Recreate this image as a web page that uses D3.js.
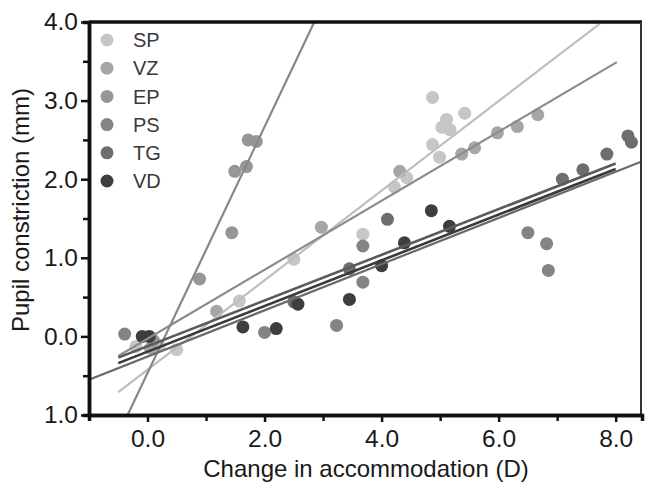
<!DOCTYPE html>
<html>
<head>
<meta charset="utf-8">
<script src="https://cdn.jsdelivr.net/npm/d3@7"></script>
<style>
  body { margin: 0; background: #fff; }
  svg { display: block; font-family: "Liberation Sans", Arial, Helvetica, sans-serif; }
</style>
</head>
<body>
<svg></svg>
<script>
// Subjects and their grey levels
const subjects = ["SP", "VZ", "EP", "PS", "TG", "VD"];
const pointColors = ["#c6c6c6", "#a6a6a6", "#969696", "#848484", "#6e6e6e", "#3e3e3e"];
const lineColors = ["#bebebe", "#8c8c8c", "#878787", "#6a6a6a", "#5a5a5a", "#3a3a3a"];

// Measurements [accommodation D, constriction mm]
const spPoints = [[-0.2, -0.13], [0.2, -0.12], [0.5, -0.17], [1.57, 0.45], [2.5, 0.98], [3.68, 1.3],
  [4.22, 1.9], [4.43, 2.02], [4.87, 2.44], [4.99, 2.28], [4.87, 3.04], [5.11, 2.76], [5.03, 2.66],
  [5.17, 2.63], [5.42, 2.84]];
const vzPoints = [[0.05, -0.15], [1.18, 0.32], [2.97, 1.39], [4.31, 2.1], [5.37, 2.32], [5.59, 2.4],
  [5.98, 2.59], [6.32, 2.67], [6.67, 2.82]];
const epPoints = [[0.1, -0.05], [0.89, 0.73], [1.44, 1.32], [1.49, 2.1], [1.69, 2.16], [1.72, 2.5], [1.86, 2.48]];
const psPoints = [[-0.39, 0.03], [2.0, 0.05], [3.23, 0.14], [3.68, 0.69], [3.68, 1.15], [6.5, 1.32],
  [6.82, 1.18], [6.85, 0.84]];
const tgPoints = [[2.5, 0.44], [3.45, 0.86], [4.1, 1.49], [7.09, 2.0], [7.44, 2.12], [7.85, 2.32],
  [8.21, 2.55], [8.27, 2.47]];
const vdPoints = [[-0.09, 0.0], [0.03, 0.0], [1.63, 0.12], [2.2, 0.1], [2.57, 0.41], [3.45, 0.47],
  [4.0, 0.9], [4.39, 1.19], [4.85, 1.6], [5.16, 1.4]];

// Fitted lines, start and end [x, y]
const spFit = [[-0.5, -0.71], [7.73, 3.98]];
const vzFit = [[-0.5, -0.25], [8.02, 3.49]];
const epFit = [[-0.34, -1.0], [2.85, 4.0]];
const psFit = [[-1.0, -0.55], [8.46, 2.23]];
const tgFit = [[-0.5, -0.27], [8.0, 2.2]];
const vdFit = [[-0.5, -0.34], [8.0, 2.13]];

// Axis ticks
const xMajor = [0, 2, 4, 6, 8];
const xMajorLabels = ["0.0", "2.0", "4.0", "6.0", "8.0"];
const xMinor = [1, 3, 5, 7];
const yMajor = [-1, 0, 1, 2, 3, 4];
const yMajorLabels = ["1.0", "0.0", "1.0", "2.0", "3.0", "4.0"];
const yMinor = [-0.5, 0.5, 1.5, 2.5, 3.5];

const allPoints = [spPoints, vzPoints, epPoints, psPoints, tgPoints, vdPoints];
const allFits = [spFit, vzFit, epFit, psFit, tgFit, vdFit];

const W = 646, H = 482;
const margin = { top: 22, right: 4, bottom: 67, left: 89 };

const svg = d3.select("svg").attr("width", W).attr("height", H);

const x = d3.scaleLinear().domain([-1, 8.45]).range([margin.left, W - margin.right]);
const y = d3.scaleLinear().domain([-1, 4]).range([H - margin.bottom, margin.top]);

svg.append("clipPath").attr("id", "plot")
  .append("rect")
  .attr("x", margin.left).attr("y", margin.top)
  .attr("width", W - margin.left - margin.right)
  .attr("height", H - margin.top - margin.bottom);

const plot = svg.append("g").attr("clip-path", "url(#plot)");

// points
allPoints.forEach((pts, i) => {
  plot.append("g").selectAll("circle")
    .data(pts)
    .enter().append("circle")
    .attr("cx", d => x(d[0]))
    .attr("cy", d => y(d[1]))
    .attr("r", 6.5)
    .style("fill", pointColors[i]);
});

// fit lines
const line = d3.line().x(d => x(d[0])).y(d => y(d[1]));
allFits.forEach((f, i) => {
  plot.append("path")
    .attr("d", line(f))
    .style("fill", "none")
    .style("stroke", lineColors[i])
    .style("stroke-width", i >= 4 ? 2.6 : 2.2);
});

// frame: top and right
svg.append("line")
  .attr("x1", x(-1)).attr("x2", x(8.45))
  .attr("y1", y(4)).attr("y2", y(4))
  .style("stroke", "#111").style("stroke-width", 3.5);
svg.append("line")
  .attr("x1", x(8.45) - 1).attr("x2", x(8.45) - 1)
  .attr("y1", y(4)).attr("y2", y(-1))
  .style("stroke", "#333").style("stroke-width", 2);

// axes
const xMinorAxis = svg.append("g")
  .attr("transform", `translate(0,${y(-1)})`)
  .call(d3.axisBottom(x).tickValues(xMinor).tickSize(6).tickFormat(""));
const xAxis = svg.append("g")
  .attr("transform", `translate(0,${y(-1)})`)
  .call(d3.axisBottom(x).tickValues(xMajor).tickSize(7).tickSizeOuter(0)
    .tickFormat((d, i) => xMajorLabels[i]));
const yMinorAxis = svg.append("g")
  .attr("transform", `translate(${x(-1)},0)`)
  .call(d3.axisLeft(y).tickValues(yMinor).tickSize(6).tickFormat(""));
const yAxis = svg.append("g")
  .attr("transform", `translate(${x(-1)},0)`)
  .call(d3.axisLeft(y).tickValues(yMajor).tickSize(8).tickSizeOuter(0)
    .tickFormat((d, i) => yMajorLabels[i]));

[xMinorAxis, xAxis, yMinorAxis, yAxis].forEach(a => {
  a.selectAll(".domain").style("stroke", "#111").style("stroke-width", 3.5);
  a.selectAll(".tick line").style("stroke", "#111").style("stroke-width", 2.5);
  a.selectAll("text").style("font-size", "24.5px").style("fill", "#1a1a1a")
    .style("font-family", "'Liberation Sans', Arial, sans-serif");
});
xAxis.selectAll("text").attr("y", 10).attr("dy", "0.9em");
yAxis.selectAll("text").attr("x", -11);

// axis titles
svg.append("text")
  .attr("x", 366)
  .attr("y", 477)
  .attr("text-anchor", "middle")
  .style("font-size", "24px").style("fill", "#1a1a1a")
  .text("Change in accommodation (D)");
svg.append("text")
  .attr("transform", `translate(29,210) rotate(-90)`)
  .attr("text-anchor", "middle")
  .style("font-size", "24px").style("fill", "#1a1a1a")
  .text("Pupil constriction (mm)");

// legend
const legend = svg.append("g").selectAll("g")
  .data(subjects)
  .enter().append("g")
  .attr("transform", (d, i) => `translate(107,${40 + i * 28.2})`);
legend.append("circle")
  .attr("r", 6.5)
  .style("fill", (d, i) => pointColors[i]);
legend.append("text")
  .attr("x", 26)
  .attr("dy", "0.36em")
  .style("font-size", "20px").style("fill", "#3a3a3a")
  .text(d => d);
</script>
</body>
</html>
